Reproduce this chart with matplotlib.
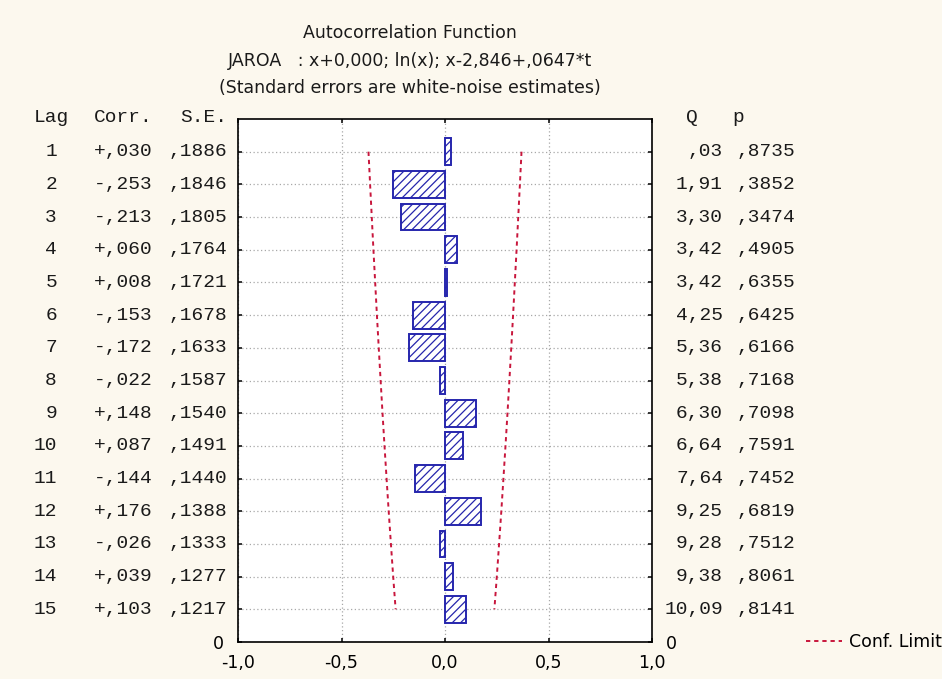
import matplotlib
matplotlib.use("Agg")
import matplotlib.pyplot as plt
import matplotlib.transforms as mtransforms

# Autocorrelation table
lags = list(range(1, 16))
corr = [0.030, -0.253, -0.213, 0.060, 0.008, -0.153, -0.172, -0.022,
        0.148, 0.087, -0.144, 0.176, -0.026, 0.039, 0.103]
std_err = [0.1886, 0.1846, 0.1805, 0.1764, 0.1721, 0.1678, 0.1633, 0.1587,
           0.1540, 0.1491, 0.1440, 0.1388, 0.1333, 0.1277, 0.1217]
q_stat = [0.03, 1.91, 3.30, 3.42, 3.42, 4.25, 5.36, 5.38,
          6.30, 6.64, 7.64, 9.25, 9.28, 9.38, 10.09]
p_value = [0.8735, 0.3852, 0.3474, 0.4905, 0.6355, 0.6425, 0.6166, 0.7168,
           0.7098, 0.7591, 0.7452, 0.6819, 0.7512, 0.8061, 0.8141]
x_ticks = [-1.0, -0.5, 0.0, 0.5, 1.0]
z_crit = 1.96

title_lines = ["Autocorrelation Function",
               "JAROA   : x+0,000; ln(x); x-2,846+,0647*t",
               "(Standard errors are white-noise estimates)"]

W, H = 942, 679
SANS = "DejaVu Sans"
MONO = "Liberation Mono"
BG = "#fcf8ee"
BAR = "#2626ad"
CONF = "#c8163c"


def no_lead_zero(v, nd):
    return f"{abs(v):.{nd}f}".lstrip("0").replace(".", ",")


def fmt_corr(v):
    return ("+" if v >= 0 else "-") + no_lead_zero(v, 3)


def fmt_q(v):
    return f"{v:.2f}".lstrip("0").replace(".", ",")


plt.rcParams["hatch.linewidth"] = 0.9
plt.rcParams["hatch.color"] = BAR

fig = plt.figure(figsize=(W / 100, H / 100), dpi=100, facecolor=BG)
ax = fig.add_axes([238 / W, 1 - 642 / H, (652 - 238) / W, (642 - 119) / H])
ax.set_facecolor("white")

# bars
ax.barh(lags, corr, height=0.82, left=0, color="white", edgecolor=BAR,
        hatch="////", linewidth=1.4, zorder=3)

# confidence limits
upper = [z_crit * s for s in std_err]
lower = [-z_crit * s for s in std_err]
dash = (0, (2.2, 2.0))
ax.plot(lower, lags, color=CONF, lw=1.4, linestyle=dash, zorder=4,
        label="Conf. Limit")
ax.plot(upper, lags, color=CONF, lw=1.4, linestyle=dash, zorder=4)

ax.set_xlim(-1, 1)
ax.set_ylim(16, 0)
ax.set_xticks(x_ticks)
ax.set_xticklabels([f"{t:.1f}".replace(".", ",") for t in x_ticks],
                   fontfamily=SANS, fontsize=12.5)
ax.set_yticks(list(range(1, 17)))
ax.set_yticklabels([""] * 15 + ["0"], fontfamily=SANS, fontsize=12.5)
ax.tick_params(axis="both", direction="in", length=3, width=1.1,
               top=True, right=True, labelright=True)
ax.tick_params(axis="x", pad=9)
ax.tick_params(axis="y", pad=10)

ax.grid(True, color="#a8a8a8", linestyle=(0, (1, 2)), linewidth=0.9, zorder=1)
for sp in ax.spines.values():
    sp.set_linewidth(1.2)
    sp.set_color("black")

# table columns beside the plot
tr = mtransforms.blended_transform_factory(fig.transFigure, ax.transData)
mono = dict(fontfamily=MONO, fontsize=14, va="center", ha="right",
            transform=tr, color="#1a1a1a")
for k in range(len(lags)):
    y = lags[k]
    fig.text(57 / W, y, str(lags[k]), **mono)
    fig.text(153 / W, y, fmt_corr(corr[k]), **mono)
    fig.text(227 / W, y, no_lead_zero(std_err[k], 4), **mono)
    fig.text(723 / W, y, fmt_q(q_stat[k]), **mono)
    fig.text(795 / W, y, no_lead_zero(p_value[k], 4), **mono)

hdr = dict(mono)
hdr_y = -0.05
fig.text(51.5 / W, hdr_y, "Lag", **{**hdr, "ha": "center"})
fig.text(153 / W, hdr_y, "Corr.", **hdr)
fig.text(227 / W, hdr_y, "S.E.", **hdr)
fig.text(692 / W, hdr_y, "Q", **{**hdr, "ha": "center"})
fig.text(738 / W, hdr_y, "p", **{**hdr, "ha": "center"})

# titles
for y_px, line in zip([33, 61, 88], title_lines):
    fig.text(410 / W, 1 - y_px / H, line, fontfamily=SANS, fontsize=12.5,
             ha="center", va="center", color="#1a1a1a")

fig.legend(loc="center left", bbox_to_anchor=(806 / W, 1 - 642 / H),
           frameon=False, prop={"family": SANS, "size": 12.5},
           handlelength=2.1, handletextpad=0.4, borderpad=0,
           borderaxespad=0)

fig.savefig("out.png", dpi=100, facecolor=BG)
